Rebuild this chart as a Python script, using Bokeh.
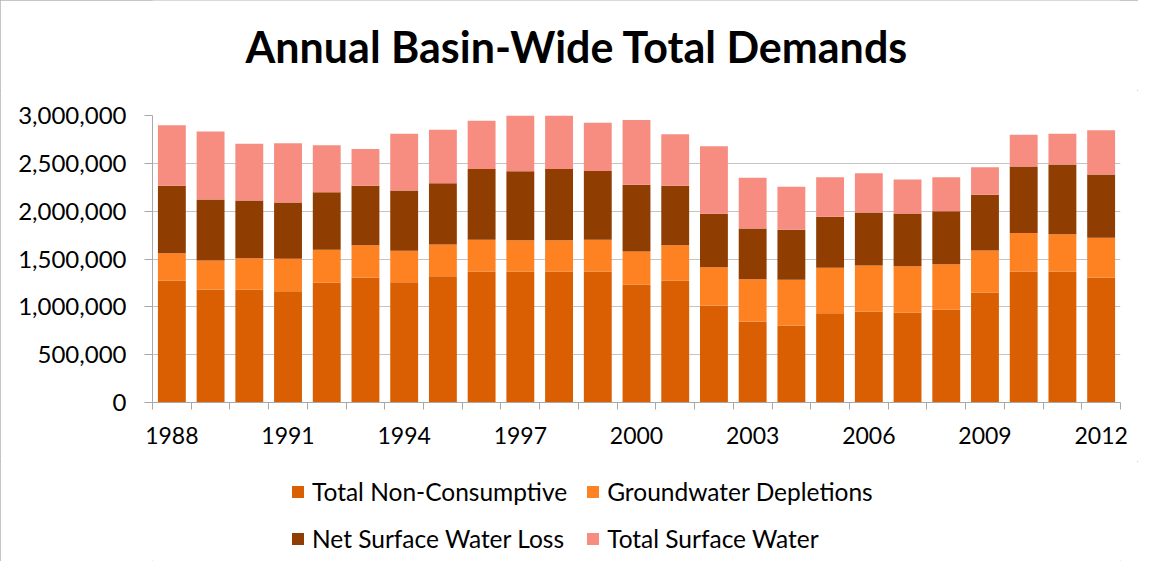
from bokeh.plotting import figure
from bokeh.layouts import column
from bokeh.models import (Range1d, FixedTicker, NumeralTickFormatter, Legend,
                          LegendItem, BasicTickFormatter, Label)
from bokeh.embed import file_html
from bokeh.resources import INLINE

years = list(range(1988, 2013))
non_consumptive = [1275000, 1181000, 1178000, 1164000, 1251000, 1307000, 1258000, 1320000,
                   1369000, 1369000, 1369000, 1369000, 1233000, 1272000, 1014000, 847000,
                   805000, 934000, 951000, 941000, 969000, 1150000, 1369000, 1369000, 1307000]
groundwater = [286000, 303000, 331000, 338000, 345000, 337000, 327000, 331000,
               331000, 328000, 328000, 331000, 345000, 372000, 401000, 442000,
               477000, 474000, 481000, 484000, 477000, 439000, 404000, 390000, 414000]
net_surface_loss = [704000, 638000, 602000, 588000, 602000, 621000, 631000, 642000,
                    742000, 721000, 745000, 721000, 697000, 621000, 557000, 530000,
                    523000, 533000, 554000, 550000, 554000, 582000, 694000, 729000, 662000]
surface_water = [634000, 711000, 593000, 621000, 492000, 386000, 592000, 557000,
                 502000, 582000, 558000, 502000, 679000, 540000, 707000, 529000,
                 449000, 414000, 411000, 356000, 355000, 289000, 331000, 320000, 463000]

title_text = "Annual Basin-Wide Total Demands"
series_names = ["Total Non-Consumptive", "Groundwater Depletions",
                "Net Surface Water Loss", "Total Surface Water"]
colors = ["#d95f02", "#fe8122", "#8f3d00", "#f68d80"]
keys = ["tnc", "gd", "nswl", "tsw"]

data = dict(year=years, tnc=non_consumptive, gd=groundwater,
            nswl=net_surface_loss, tsw=surface_water)

FONT = "Lato"
W = 1138


def blank(height):
    f = figure(width=W, height=height, output_backend="svg", toolbar_location=None,
               x_range=Range1d(0, 1), y_range=Range1d(0, 1),
               x_axis_type=None, y_axis_type=None,
               min_border_left=0, min_border_right=0, min_border_top=0, min_border_bottom=0)
    f.outline_line_color = None
    f.xgrid.visible = False
    f.ygrid.visible = False
    return f


# ---- title strip ----
top = blank(90)
top.add_layout(Label(x=576.5, y=45.5, x_units="canvas", y_units="canvas",
                     text=title_text, text_font=FONT, text_font_style="bold",
                     text_font_size="43px", text_color="black",
                     text_align="center", text_baseline="alphabetic"))

# ---- main chart ----
p = figure(width=W, height=371, output_backend="svg", toolbar_location=None,
           x_range=Range1d(years[0] - 0.5, years[-1] + 0.5),
           y_range=Range1d(0, 3000000),
           min_border_left=152, min_border_right=18, min_border_top=25,
           min_border_bottom=59)
p.outline_line_color = None
p.background_fill_color = "white"
p.border_fill_color = "white"

p.vbar_stack(keys, x="year", width=0.72, color=colors, line_color=None, source=data)

p.xgrid.visible = False
p.ygrid.grid_line_color = "#c4c4c4"
p.ygrid.grid_line_width = 1
p.ygrid.ticker = FixedTicker(ticks=list(range(0, 3000001, 500000)))

yax = p.yaxis[0]
yax.ticker = FixedTicker(ticks=list(range(0, 3000001, 500000)))
yax.formatter = NumeralTickFormatter(format="0,0")
yax.axis_line_color = "#a8a8a8"
yax.major_tick_line_color = "#a8a8a8"
yax.major_tick_out = 8
yax.major_tick_in = 0
yax.minor_tick_line_color = None
yax.major_label_text_font = FONT
yax.major_label_text_font_size = "24px"
yax.major_label_text_color = "black"
yax.major_label_standoff = 18

xax = p.xaxis[0]
xax.ticker = FixedTicker(ticks=years[::3],
                         minor_ticks=[y - 0.5 for y in years] + [years[-1] + 0.5])
xax.formatter = BasicTickFormatter(use_scientific=False)
xax.axis_line_color = "#a8a8a8"
xax.major_tick_out = 0
xax.major_tick_in = 0
xax.minor_tick_line_color = "#a8a8a8"
xax.minor_tick_out = 7
xax.minor_tick_in = 0
xax.major_label_text_font = FONT
xax.major_label_text_font_size = "23px"
xax.major_label_text_color = "black"
xax.major_label_standoff = 17

# ---- legend strip ----
leg = blank(100)
# legend swatches come from these (hidden) renderers
leg_renderers = leg.vbar_stack(keys, x="year", width=0.72, color=colors, line_color=None,
                               source=data)
for r in leg_renderers:
    r.visible = False
legend = Legend(items=[LegendItem(label=n, renderers=[r])
                       for n, r in zip(series_names, leg_renderers)],
                orientation="horizontal", ncols=2, location=(138, 8),
                label_text_font=FONT, label_text_font_size="24.5px",
                label_text_color="black",
                glyph_width=15, glyph_height=15, label_standoff=7, spacing=18,
                padding=0, margin=0, border_line_color=None, background_fill_alpha=0,
                inactive_fill_alpha=0)
leg.add_layout(legend, "center")

layout = column(top, p, leg, spacing=0,
                styles={"outline": "1px solid #b3b3b3", "outline-offset": "-1px"})
open("out.html", "w").write(file_html(layout, INLINE))
